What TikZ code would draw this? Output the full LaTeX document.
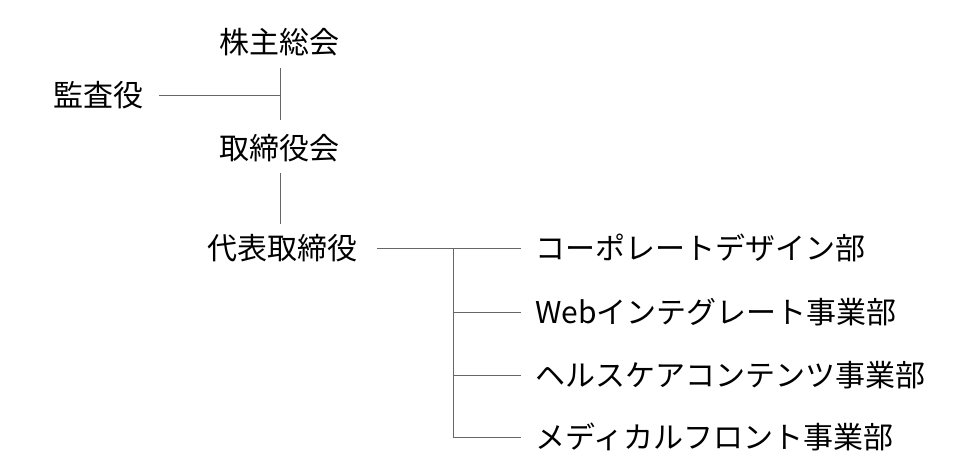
\documentclass[tikz,border=0pt]{standalone}
\usepackage{fontspec}
\setmainfont{Noto Sans CJK JP}

\begin{document}
\begin{tikzpicture}[x=1pt,y=-1pt,
        every node/.style={font=\fontsize{30}{36}\selectfont,inner sep=0pt},
        line/.style={draw=black!60,line width=1pt}]
        \useasboundingbox(0,0)rectangle(975,475);

        \node(kabu)at(279,42){株主総会};
        \node(kansa)at(98,95){監査役};
        \node(torikai)at(279,148){取締役会};
        \node(daihyo)at(282,248){代表取締役};

        \coordinate(v1top)at(280,68);
        \coordinate(v1bot)at(280,120);
        \coordinate(v1mid)at(280,95);
        \coordinate(kansaend)at(159,95);
        \coordinate(v2top)at(280,173);
        \coordinate(v2bot)at(280,224);
        \coordinate(daihyoend)at(377,248);
        \coordinate(branch)at(453,248);
        \coordinate(branchbot)at(453,437);

        \draw[line](v1top)--(v1bot);
        \draw[line](kansaend)--(v1mid);
        \draw[line](v2top)--(v2bot);
        \draw[line](daihyoend)--(branch)--(branchbot);

        \foreach \name/\y/\txt in {design/248/コーポレートデザイン部,
                web/312/Webインテグレート事業部,
                health/375/ヘルスケアコンテンツ事業部,
                medical/437/メディカルフロント事業部}{
            \node[anchor=west](\name)at(535,\y){\txt};
            \draw[line](453,\y)--([xshift=-14pt]\name.west);
        }
    \end{tikzpicture}
\end{document}
